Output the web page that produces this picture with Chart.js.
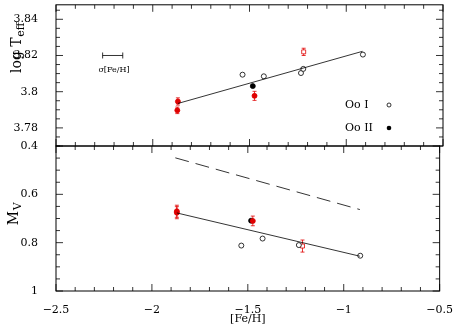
<!DOCTYPE html>
<html>
<head>
<meta charset="utf-8">
<script src="https://cdn.jsdelivr.net/npm/chart.js@4.4.0/dist/chart.umd.min.js"></script>
<style>
  html, body { margin: 0; padding: 0; background: #fff; }
  #wrap { position: relative; width: 458px; height: 327px; }
  #wrap canvas { position: absolute; left: 0; top: 0; }
</style>
</head>
<body>
<div id="wrap">
  <canvas id="topChart" width="458" height="327"></canvas>
  <canvas id="botChart" width="458" height="327"></canvas>
</div>
<script>
const FONT = "'DejaVu Serif', serif";

// tick labels
const xTicks = [-2.5, -2, -1.5, -1, -0.5];
const teffTicks = [3.78, 3.8, 3.82, 3.84];
const mvTicks = [0.4, 0.6, 0.8, 1];

// Oo I (open circles)
const ooIFeh = [-1.536, -1.426, -1.234, -1.222, -0.914];
const ooITeff = [3.8094, 3.8085, 3.8103, 3.8126, 3.8205];
const ooIMvFeh = [-1.534, -1.423, -1.234, -0.914];
const ooIMv = [0.812, 0.783, 0.810, 0.854];

// Oo II (filled circles)
const ooIIFeh = [-1.483];
const ooIITeff = [3.8031];
const ooIIMv = [0.709];

// red filled, with errors
const redFeh = [-1.87, -1.873, -1.474];
const redTeff = [3.7946, 3.7897, 3.7977];
const redTeffErr = [0.002, 0.0018, 0.0025];
const redMvFeh = [-1.87, -1.87, -1.474];
const redMv = [0.670, 0.676, 0.710];
const redMvErr = [0.025, 0.025, 0.02];

// red open, with errors
const redOpenFeh = [-1.22];
const redOpenTeff = [3.822];
const redOpenTeffErr = [0.002];
const redOpenMvFeh = [-1.215];
const redOpenMv = [0.814];
const redOpenMvErr = [0.025];

// fitted lines
const teffFitFeh = [-1.87, -0.916];
const teffFit = [3.7935, 3.8223];
const mvFitFeh = [-1.87, -0.916];
const mvFit = [0.677, 0.856];
const mvDashFeh = [-1.878, -0.916];
const mvDash = [0.449, 0.663];

// sigma[Fe/H] bar
const sigmaFeh = [-2.207];
const sigmaTeff = [3.82];
const sigmaErr = [0.052];

const pts = (xs, ys) => xs.map((x, i) => ({ x: x, y: ys[i] }));

// error bars drawn through the library's scales
const errorBars = {
  id: "errorBars",
  beforeDatasetsDraw(chart) {
    const ctx = chart.ctx;
    const xs = chart.scales.x, ys = chart.scales.y;
    chart.data.datasets.forEach((ds, di) => {
      const meta = chart.getDatasetMeta(di);
      ctx.save();
      ctx.lineWidth = 0.8;
      ctx.strokeStyle = ds.errColor || "#e00000";
      ds.data.forEach((p, i) => {
        const px = meta.data[i].x, py = meta.data[i].y;
        if (ds.yErr) {
          const y1 = ys.getPixelForValue(p.y - ds.yErr[i]);
          const y2 = ys.getPixelForValue(p.y + ds.yErr[i]);
          ctx.beginPath();
          ctx.moveTo(px, y1); ctx.lineTo(px, y2);
          ctx.moveTo(px - 2, y1); ctx.lineTo(px + 2, y1);
          ctx.moveTo(px - 2, y2); ctx.lineTo(px + 2, y2);
          ctx.stroke();
        }
        if (ds.xErr) {
          const x1 = xs.getPixelForValue(p.x - ds.xErr[i]);
          const x2 = xs.getPixelForValue(p.x + ds.xErr[i]);
          ctx.beginPath();
          ctx.moveTo(x1, py); ctx.lineTo(x2, py);
          ctx.moveTo(x1, py - 3); ctx.lineTo(x1, py + 3);
          ctx.moveTo(x2, py - 3); ctx.lineTo(x2, py + 3);
          ctx.stroke();
        }
      });
      ctx.restore();
    });
  }
};

// frame with inward ticks on all four sides
const frame = {
  id: "frame",
  afterDraw(chart, args, opts) {
    const ctx = chart.ctx, a = chart.chartArea;
    const xs = chart.scales.x, ys = chart.scales.y;
    ctx.save();
    ctx.strokeStyle = "#000";
    ctx.lineWidth = 1;
    ctx.strokeRect(a.left, a.top, a.right - a.left, a.bottom - a.top);
    ctx.lineWidth = 0.8;
    ctx.beginPath();
    const xStep = 0.1;
    for (let k = 0; k <= 20; k++) {
      const v = -2.5 + k * xStep;
      const px = xs.getPixelForValue(v);
      const len = k % 5 === 0 ? 7 : 4;
      ctx.moveTo(px, a.bottom); ctx.lineTo(px, a.bottom - len);
      ctx.moveTo(px, a.top); ctx.lineTo(px, a.top + len);
    }
    const n = Math.round((opts.yMax - opts.yMin) / opts.yStep);
    for (let k = 0; k <= n; k++) {
      const v = opts.yMin + k * opts.yStep;
      if (v < ys.min - 1e-9 || v > ys.max + 1e-9) continue;
      const py = ys.getPixelForValue(v);
      const len = k % opts.yEvery === opts.yPhase ? 7 : 4;
      ctx.moveTo(a.left, py); ctx.lineTo(a.left + len, py);
      ctx.moveTo(a.right, py); ctx.lineTo(a.right - len, py);
    }
    ctx.stroke();
    ctx.restore();
  }
};

// texts: axis titles with subscripts, legend, sigma label
const texts = {
  id: "texts",
  afterDraw(chart, args, opts) {
    const ctx = chart.ctx;
    ctx.save();
    ctx.fillStyle = "#000";
    ctx.textBaseline = "middle";
    // rotated y title
    ctx.save();
    ctx.translate(opts.titleX, opts.titleY);
    ctx.rotate(-Math.PI / 2);
    ctx.font = "14px " + FONT;
    const w1 = ctx.measureText(opts.main).width;
    ctx.font = "11px " + FONT;
    const w2 = ctx.measureText(opts.sub).width;
    const sx = -(w1 + w2) / 2;
    ctx.font = "14px " + FONT;
    ctx.textAlign = "left";
    ctx.fillText(opts.main, sx, 0);
    ctx.font = "11px " + FONT;
    ctx.fillText(opts.sub, sx + w1 + 0.5, 4);
    ctx.restore();
    if (opts.legend) {
      ctx.font = "11px " + FONT;
      ctx.textAlign = "left";
      ctx.fillText("Oo I", 345, 105);
      ctx.fillText("Oo II", 345, 128);
      ctx.lineWidth = 0.8;
      ctx.strokeStyle = "#000";
      ctx.beginPath(); ctx.arc(389, 105, 2, 0, 2 * Math.PI); ctx.stroke();
      ctx.beginPath(); ctx.arc(389, 128, 2.3, 0, 2 * Math.PI); ctx.fill();
      ctx.font = "8px " + FONT;
      ctx.textAlign = "center";
      ctx.fillText("\u03c3[Fe/H]", 114, 70);
    }
    ctx.restore();
  }
};

const yAxisBase = {
  afterFit: (s) => { s.width = 56; s.paddingTop = 0; s.paddingBottom = 0; },
  grid: { display: false },
  border: { display: false },
  ticks: {
    color: "#000",
    font: { family: FONT, size: 11 },
    padding: 10,
    callback: (v) => String(v)
  }
};

const lineDs = (data, dash) => ({
  data: data, showLine: true, pointRadius: 0, borderColor: "#000",
  borderWidth: 0.8, borderDash: dash || [], fill: false
});
const openCircles = (data) => ({
  data: data, pointStyle: "circle", pointRadius: 2.5,
  backgroundColor: "#fff", borderColor: "#000", pointBorderWidth: 0.8
});
const filledCircles = (data) => ({
  data: data, pointStyle: "circle", pointRadius: 2.5,
  backgroundColor: "#000", borderColor: "#000", pointBorderWidth: 0.8
});
const redFilled = (data, err) => ({
  data: data, yErr: err, pointStyle: "circle", pointRadius: 2.5,
  backgroundColor: "#e00000", borderColor: "#e00000", pointBorderWidth: 0.8
});
const redOpen = (data, err) => ({
  data: data, yErr: err, pointStyle: "rect", pointRadius: 2.8,
  backgroundColor: "#fff", borderColor: "#e00000", pointBorderWidth: 0.8
});

const common = {
  animation: false,
  responsive: false,
  events: [],
  plugins: { legend: { display: false }, tooltip: { enabled: false } }
};

new Chart(document.getElementById("topChart"), {
  type: "scatter",
  data: {
    datasets: [
      lineDs(pts(teffFitFeh, teffFit)),
      openCircles(pts(ooIFeh, ooITeff)),
      filledCircles(pts(ooIIFeh, ooIITeff)),
      redFilled(pts(redFeh, redTeff), redTeffErr),
      redOpen(pts(redOpenFeh, redOpenTeff), redOpenTeffErr),
      { data: pts(sigmaFeh, sigmaTeff), xErr: sigmaErr, errColor: "#000", pointRadius: 0 }
    ]
  },
  options: Object.assign({}, common, {
    layout: { padding: { top: 2, bottom: 181, left: 0, right: 15 } },
    plugins: Object.assign({}, common.plugins, {
      frame: { yMin: 3.77, yMax: 3.85, yStep: 0.005, yEvery: 4, yPhase: 2 },
      texts: { titleX: 17, titleY: 48, main: "log T", sub: "eff", legend: true }
    }),
    scales: {
      x: { type: "linear", min: -2.5, max: -0.5, display: false },
      y: Object.assign({}, yAxisBase, {
        min: 3.77, max: 3.848,
        afterBuildTicks: (s) => { s.ticks = teffTicks.map((v) => ({ value: v })); }
      })
    }
  }),
  plugins: [errorBars, frame, texts]
});

new Chart(document.getElementById("botChart"), {
  type: "scatter",
  data: {
    datasets: [
      lineDs(pts(mvFitFeh, mvFit)),
      lineDs(pts(mvDashFeh, mvDash), [14, 7]),
      openCircles(pts(ooIMvFeh, ooIMv)),
      redOpen(pts(redOpenMvFeh, redOpenMv), redOpenMvErr),
      redFilled(pts(redMvFeh, redMv), redMvErr),
      filledCircles(pts(ooIIFeh, ooIIMv))
    ]
  },
  options: Object.assign({}, common, {
    layout: { padding: { top: 146, bottom: 0, left: 0, right: 15 } },
    plugins: Object.assign({}, common.plugins, {
      frame: { yMin: 0.4, yMax: 1, yStep: 0.05, yEvery: 4, yPhase: 0 },
      texts: { titleX: 14, titleY: 214, main: "M", sub: "V", legend: false }
    }),
    scales: {
      x: {
        type: "linear", min: -2.5, max: -0.5,
        afterFit: (s) => { s.height = 36; },
        afterBuildTicks: (s) => { s.ticks = xTicks.map((v) => ({ value: v })); },
        grid: { display: false },
        border: { display: false },
        ticks: {
          color: "#000", autoSkip: false, maxRotation: 0, padding: 5,
          font: { family: FONT, size: 11 },
          callback: (v) => String(v).replace("-", "\u2212")
        },
        title: {
          display: true, text: "[Fe/H]", color: "#000",
          font: { family: FONT, size: 11 }, padding: { top: 0, bottom: 1 }
        }
      },
      y: Object.assign({}, yAxisBase, {
        min: 0.4, max: 1, reverse: true,
        afterBuildTicks: (s) => { s.ticks = mvTicks.map((v) => ({ value: v })); }
      })
    }
  }),
  plugins: [errorBars, frame, texts]
});
</script>
</body>
</html>
